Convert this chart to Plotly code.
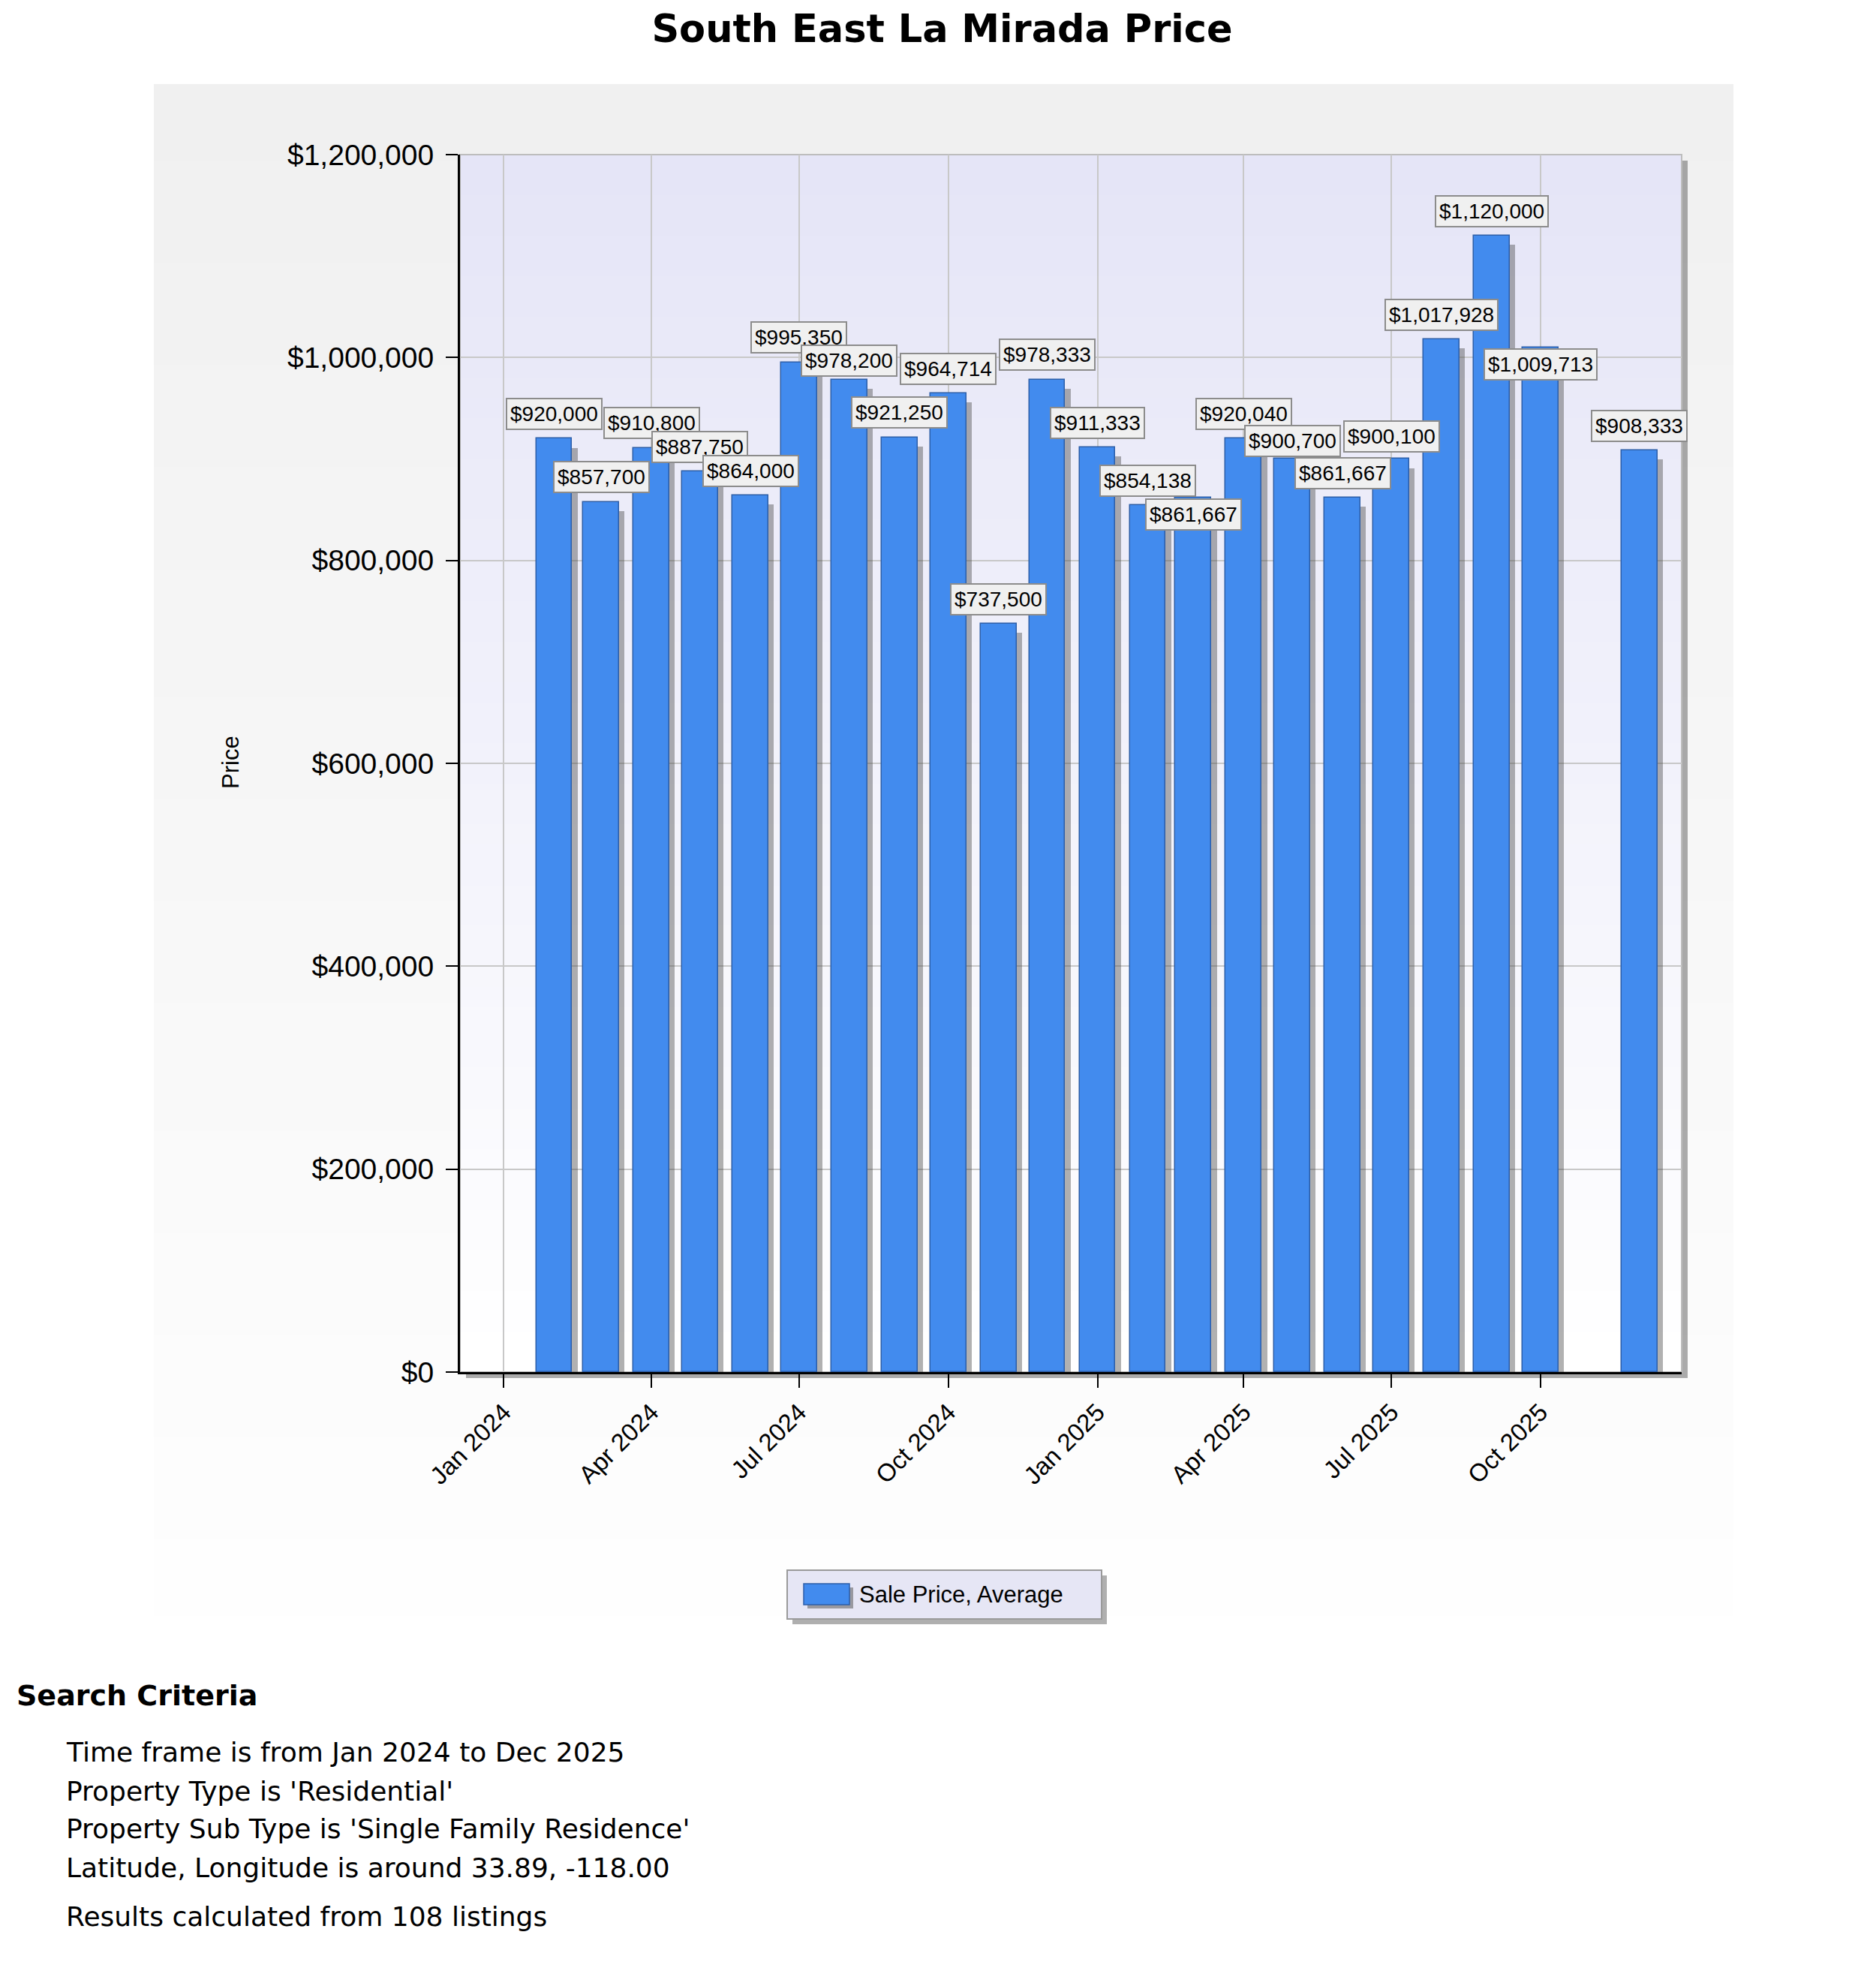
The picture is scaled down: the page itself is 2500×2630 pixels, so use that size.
import plotly.graph_objects as go

# ---------------- data ----------------
months = [
    "2024-02-01", "2024-03-01", "2024-04-01", "2024-05-01", "2024-06-01",
    "2024-07-01", "2024-08-01", "2024-09-01", "2024-10-01", "2024-11-01",
    "2024-12-01", "2025-01-01", "2025-02-01", "2025-03-01", "2025-04-01",
    "2025-05-01", "2025-06-01", "2025-07-01", "2025-08-01", "2025-09-01",
    "2025-10-01", "2025-12-01",
]
avg_price = [
    920000, 857700, 910800, 887750, 864000,
    995350, 978200, 921250, 964714, 737500,
    978333, 911333, 854138, 861667, 920040,
    900700, 861667, 900100, 1017928, 1120000,
    1009713, 908333,
]
x_tick_vals = ["2024-01-01", "2024-04-01", "2024-07-01", "2024-10-01",
               "2025-01-01", "2025-04-01", "2025-07-01", "2025-10-01"]
x_tick_text = ["Jan 2024", "Apr 2024", "Jul 2024", "Oct 2024",
               "Jan 2025", "Apr 2025", "Jul 2025", "Oct 2025"]
y_tick_vals = [0, 200000, 400000, 600000, 800000, 1000000, 1200000]
y_tick_text = ["$0", "$200,000", "$400,000", "$600,000", "$800,000",
               "$1,000,000", "$1,200,000"]
series_name = "Sale Price, Average"
title_text = "South East La Mirada Price"
y_title = "Price"
criteria_title = "Search Criteria"
criteria_lines = [
    "Time frame is from Jan 2024 to Dec 2025",
    "Property Type is 'Residential'",
    "Property Sub Type is 'Single Family Residence'",
    "Latitude, Longitude is around 33.89, -118.00",
    "Results calculated from 108 listings",
]

# ---------------- style / layout ----------------
W, H = 2500, 2630
L, R, T, B = 605, 2233, 198, 1820          # plot area in pixels
DAY = 86400000
bar_width = 22 * DAY
shadow_shift = 3.5 * DAY
BAR_COLOR = "#428BEE"
BAR_LINE = "#2C5EA8"
# pixel offsets (upward positive) of the value labels relative to bar tops
label_up = [33] * len(avg_price)
label_up[6] = 25
label_up[13] = -22
label_up[15] = 23
label_up[17] = 30
label_up[20] = -22

TICK_FONT = "Liberation Sans, Arial, sans-serif"
TEXT_FONT = "DejaVu Sans, Verdana, sans-serif"


def px(x):
    return (x - L) / (R - L)


def py(y):
    return (B - y) / (B - T)


def lerp(c0, c1, t):
    return "rgb(%d,%d,%d)" % tuple(round(a + (b - a) * t) for a, b in zip(c0, c1))


def rect(x0, y0, x1, y1, fill, line_color=None, line_width=0):
    return dict(type="rect", xref="paper", yref="paper", layer="below",
                x0=px(x0), x1=px(x1), y0=py(y1), y1=py(y0),
                line=dict(color=line_color or "rgba(0,0,0,0)", width=line_width),
                fillcolor=fill)


shapes = []
# outer panel gradient
N = 60
ox0, ox1, oy0, oy1 = 197, 2302, 104, 2145
for i in range(N):
    ya = oy0 + (oy1 - oy0) * i / N
    yb = oy0 + (oy1 - oy0) * (i + 1) / N + 1
    shapes.append(rect(ox0, ya, ox1, min(yb, oy1),
                       lerp((240, 240, 240), (254, 254, 254), i / (N - 1))))
# plot shadow
shapes.append(rect(L + 8, T + 8, R + 8, B + 8, "rgba(90,90,90,0.5)"))
# plot area gradient
for i in range(N):
    ya = T + (B - T) * i / N
    yb = T + (B - T) * (i + 1) / N + 1
    shapes.append(rect(L, ya, R, min(yb, B),
                       lerp((229, 229, 247), (255, 255, 255), i / (N - 1))))
shapes.append(rect(L, T, R, B, "rgba(0,0,0,0)", "#BDBDBD", 2))
# legend (shadow, box, swatch shadow, swatch)
LX, LY = 1041, 2084
shapes.append(rect(LX + 7, LY + 7, LX + 426, LY + 72, "rgba(110,110,110,0.55)"))
shapes.append(rect(LX, LY, LX + 419, LY + 65, "#E6E6F5", "#9A9A9A", 2))
shapes.append(rect(LX + 27, LY + 23, LX + 88, LY + 51, "rgba(90,90,90,0.55)"))
shapes.append(rect(LX + 22, LY + 18, LX + 83, LY + 46, BAR_COLOR, BAR_LINE, 1.5))

fig = go.Figure()
fig.add_trace(go.Bar(
    x=months, y=avg_price, base=-9000, width=bar_width,
    offset=-bar_width / 2 + shadow_shift,
    marker=dict(color="rgba(70,70,70,0.42)", line=dict(width=0)),
    showlegend=False, hoverinfo="skip",
))
fig.add_trace(go.Bar(
    x=months, y=avg_price, width=bar_width, offset=-bar_width / 2,
    name=series_name, showlegend=False,
    marker=dict(color=BAR_COLOR, line=dict(color=BAR_LINE, width=1.5)),
))

annotations = []
for m, v, up in zip(months, avg_price, label_up):
    annotations.append(dict(
        x=m, y=v, xref="x", yref="y", yshift=up, showarrow=False,
        text="${:,}".format(v), font=dict(family=TICK_FONT, size=28, color="black"),
        bgcolor="#F0F0F0", bordercolor="#8C8C8C", borderwidth=2, borderpad=4,
        xanchor="center", yanchor="middle",
    ))
annotations.append(dict(
    x=px(300), y=py(1008), xref="paper", yref="paper", showarrow=False,
    text=y_title, textangle=-90, font=dict(family=TICK_FONT, size=31, color="black"),
    xanchor="center", yanchor="middle"))
annotations.append(dict(
    x=px(LX + 94), y=py(LY + 32), xref="paper", yref="paper", showarrow=False,
    text=series_name, font=dict(family=TICK_FONT, size=31, color="black"),
    xanchor="left", yanchor="middle"))
annotations.append(dict(
    x=px(12), y=py(2251), xref="paper", yref="paper", showarrow=False,
    text="<b>%s</b>" % criteria_title, font=dict(family=TEXT_FONT, size=38, color="black"),
    xanchor="left", yanchor="middle"))
for txt, yy in zip(criteria_lines, [2326, 2378, 2428, 2480, 2545]):
    annotations.append(dict(
        x=px(78), y=py(yy), xref="paper", yref="paper", showarrow=False,
        text=txt, font=dict(family=TEXT_FONT, size=36, color="black"),
        xanchor="left", yanchor="middle"))

fig.update_layout(
    width=W, height=H,
    margin=dict(l=L, r=W - R, t=T, b=H - B, autoexpand=False),
    paper_bgcolor="white", plot_bgcolor="rgba(0,0,0,0)",
    barmode="overlay", bargap=0, showlegend=False,
    title=dict(text="<b>%s</b>" % title_text, x=0.499, xanchor="center",
               y=1 - 30 / H, yanchor="middle", yref="container",
               font=dict(family=TEXT_FONT, size=51, color="black")),
    shapes=shapes, annotations=annotations,
)
fig.update_xaxes(
    type="date", range=["2023-12-05", "2025-12-27"],
    tickvals=x_tick_vals, ticktext=x_tick_text, tickangle=-45,
    tickfont=dict(family=TICK_FONT, size=33, color="black"),
    ticks="outside", ticklen=18, tickcolor="black", tickwidth=1.5,
    showgrid=True, gridcolor="#C8C8C8", gridwidth=2,
    showline=True, linecolor="black", linewidth=3, zeroline=False,
)
fig.update_yaxes(
    range=[0, 1200000], tickvals=y_tick_vals, ticktext=y_tick_text,
    tickfont=dict(family=TICK_FONT, size=39, color="black"),
    ticks="outside", ticklen=16, tickcolor="black", tickwidth=1.5,
    ticklabelstandoff=8,
    showgrid=True, gridcolor="#C8C8C8", gridwidth=2,
    showline=True, linecolor="black", linewidth=3, zeroline=False,
)

fig.write_html("out.html")
